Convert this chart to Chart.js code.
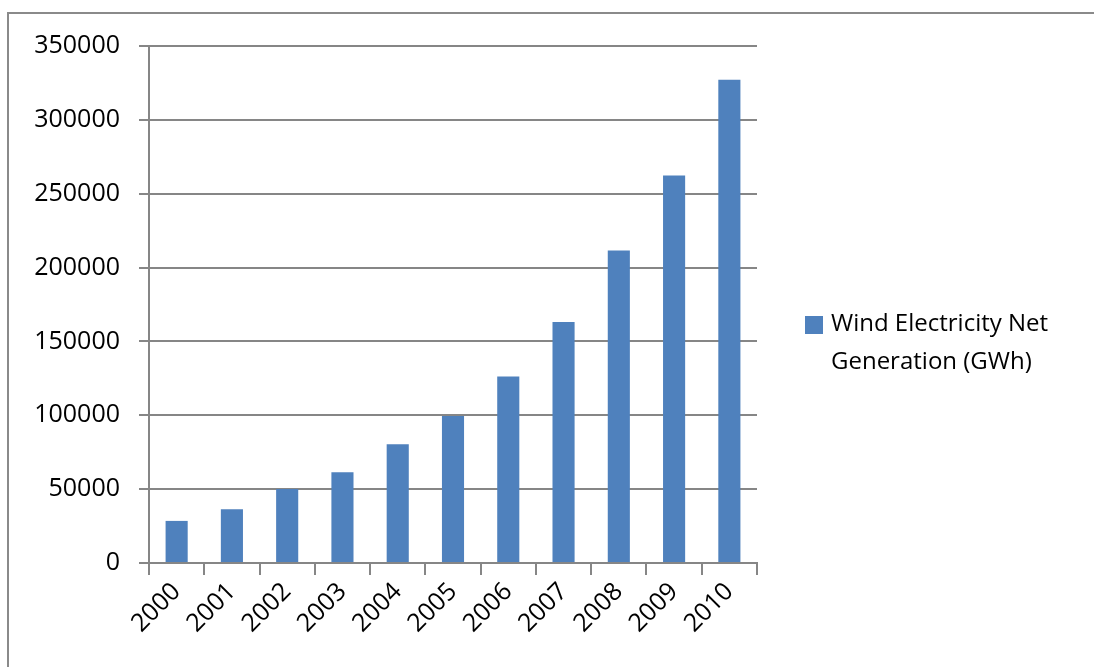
<!DOCTYPE html>
<html>
<head>
<meta charset="utf-8">
<script src="https://cdn.jsdelivr.net/npm/chart.js@4/dist/chart.umd.min.js"></script>
<style>
  html, body { margin: 0; padding: 0; background: #fff; }
  #wrap { width: 1094px; height: 667px; position: relative; }
</style>
</head>
<body>
<div id="wrap"><canvas id="windChart"></canvas></div>
<script>
// wind electricity net generation by year
const years = ['2000', '2001', '2002', '2003', '2004', '2005', '2006', '2007', '2008', '2009', '2010'];
const generation = [28500, 36400, 50100, 61500, 80400, 99600, 126200, 163100, 211600, 262400, 327200];
const seriesLabel = ['Wind Electricity Net', 'Generation (GWh)'];
const barColor = '#4f81bd';
const lineColor = '#868686';

const fontFamily = '"Open Sans", "Liberation Sans", sans-serif';

// outer frame + legend drawn on the canvas
const frameAndLegend = {
    id: 'frameAndLegend',
    beforeDraw(chart) {
        const ctx = chart.ctx;
        ctx.save();
        ctx.fillStyle = '#fff';
        ctx.fillRect(0, 0, chart.width, chart.height);
        ctx.strokeStyle = '#8a8a8a';
        ctx.lineWidth = 2;
        ctx.strokeRect(8, 13, chart.width + 20, chart.height + 20);
        ctx.restore();
    },
    afterDraw(chart) {
        const ctx = chart.ctx;
        const ds = chart.data.datasets[0];
        ctx.save();
        ctx.fillStyle = ds.backgroundColor;
        ctx.fillRect(805, 316, 18, 18);
        ctx.fillStyle = '#000';
        ctx.font = '24px ' + fontFamily;
        ctx.textBaseline = 'middle';
        ds.label.forEach((line, i) => {
            ctx.fillText(line, 831, 324 + i * 38);
        });
        ctx.restore();
    }
};

new Chart(document.getElementById('windChart'), {
    type: 'bar',
    data: {
        labels: years,
        datasets: [{
            label: seriesLabel,
            data: generation,
            backgroundColor: barColor,
            barPercentage: 0.4,
            categoryPercentage: 1.0
        }]
    },
    options: {
        responsive: true,
        maintainAspectRatio: false,
        animation: false,
        layout: { padding: { left: 0, top: 46, right: 337, bottom: 0 } },
        plugins: {
            legend: { display: false },
            tooltip: { enabled: false }
        },
        scales: {
            x: {
                grid: {
                    offset: true,
                    drawOnChartArea: false,
                    drawTicks: true,
                    tickLength: 12,
                    color: lineColor,
                    lineWidth: 2
                },
                border: { color: lineColor, width: 2 },
                ticks: {
                    color: '#000',
                    font: { family: fontFamily, size: 25 },
                    minRotation: 45,
                    maxRotation: 45,
                    padding: 2
                },
                afterFit(scale) { scale.height = 104; }
            },
            y: {
                min: 0,
                max: 350000,
                grid: {
                    color: lineColor,
                    lineWidth: 2,
                    tickLength: 10
                },
                border: { color: lineColor, width: 2 },
                ticks: {
                    stepSize: 50000,
                    color: '#000',
                    font: { family: fontFamily, size: 25 },
                    padding: 19,
                    callback: (v) => String(v)
                },
                afterFit(scale) { scale.width = 149; }
            }
        }
    },
    plugins: [frameAndLegend]
});
</script>
</body>
</html>
